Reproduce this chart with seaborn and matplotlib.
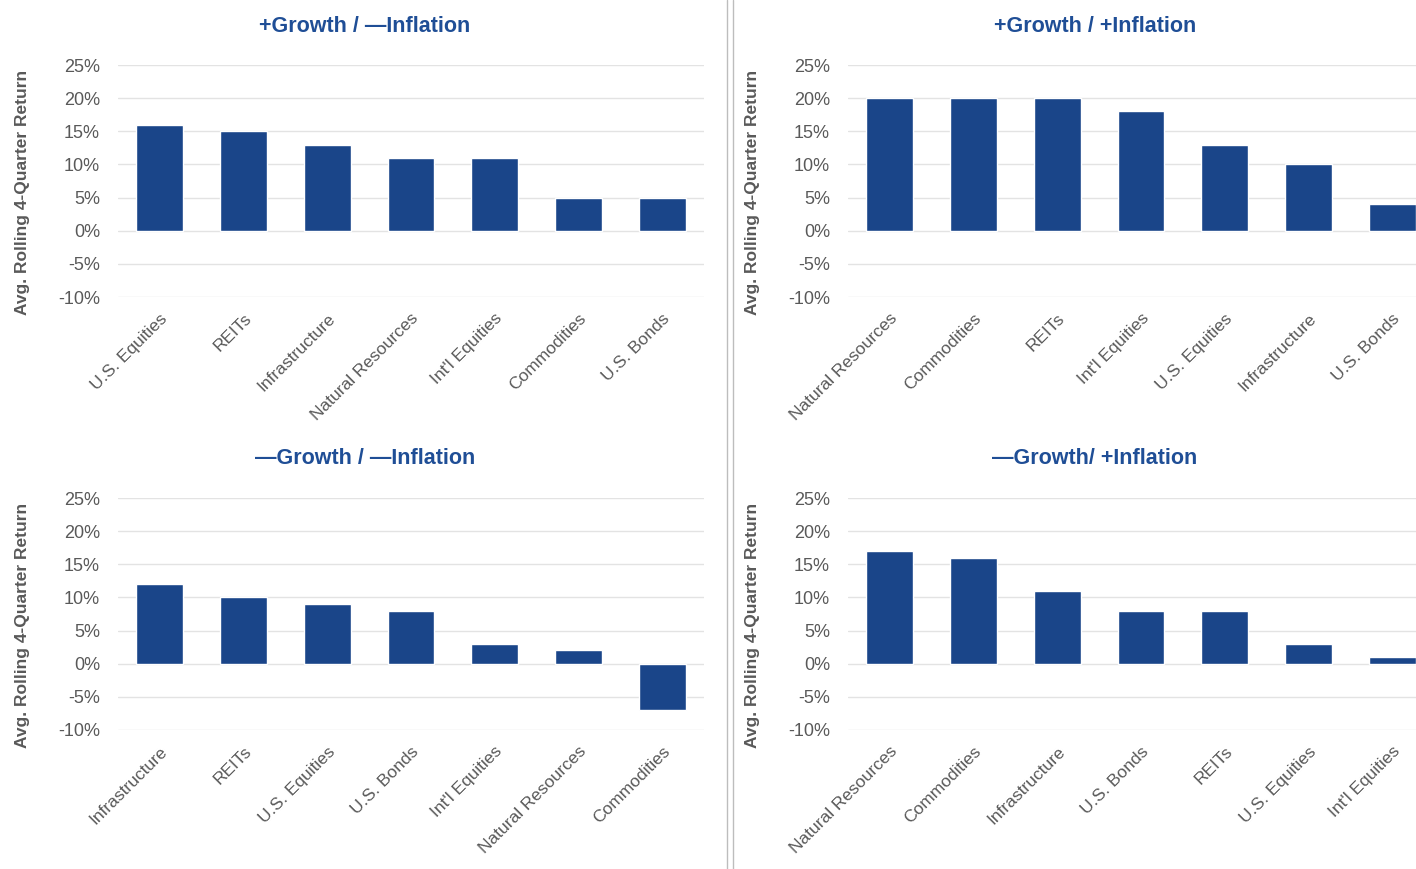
import pandas as pd
import seaborn as sns
import matplotlib.pyplot as plt
from matplotlib.lines import Line2D
from matplotlib.ticker import PercentFormatter

# data (percent)
tl_cats = ['U.S. Equities', 'REITs', 'Infrastructure', 'Natural Resources', "Int'l Equities", 'Commodities', 'U.S. Bonds']
tl_vals = [16, 15, 13, 11, 11, 5, 5]

tr_cats = ['Natural Resources', 'Commodities', 'REITs', "Int'l Equities", 'U.S. Equities', 'Infrastructure', 'U.S. Bonds']
tr_vals = [20, 20, 20, 18, 13, 10, 4]

bl_cats = ['Infrastructure', 'REITs', 'U.S. Equities', 'U.S. Bonds', "Int'l Equities", 'Natural Resources', 'Commodities']
bl_vals = [12, 10, 9, 8, 3, 2, -7]

br_cats = ['Natural Resources', 'Commodities', 'Infrastructure', 'U.S. Bonds', 'REITs', 'U.S. Equities', "Int'l Equities"]
br_vals = [17, 16, 11, 8, 8, 3, 1]

titles = ['+Growth / \u2014Inflation', '+Growth / +Inflation',
          '\u2014Growth / \u2014Inflation', '\u2014Growth/ +Inflation']
yticks = [-10, -5, 0, 5, 10, 15, 20, 25]

BAR = '#1a4589'
TITLE = '#1f4e96'
GREY = '#595959'

sns.set_style('white')
plt.rcParams['font.family'] = ['Liberation Sans', 'DejaVu Sans']
plt.rcParams['axes.unicode_minus'] = False

fig = plt.figure(figsize=(14.16, 8.69), dpi=100)

W, H = 1416, 869
# axes boxes in pixels: left, top, right, bottom
boxes = [(118, 65, 704, 297), (848, 65, 1434, 297),
         (118, 498, 704, 730), (848, 498, 1434, 730)]
title_pos = [(365, 26), (1095, 26), (365, 459), (1095, 459)]
panels = [(tl_cats, tl_vals), (tr_cats, tr_vals), (bl_cats, bl_vals), (br_cats, br_vals)]

for (cats, vals), (l, t, r, b), ttl, (tx, ty) in zip(panels, boxes, titles, title_pos):
    ax = fig.add_axes([l / W, 1 - b / H, (r - l) / W, (b - t) / H])
    df = pd.DataFrame({'asset': cats, 'ret': vals})
    sns.barplot(data=df, x='asset', y='ret', color=BAR, saturation=1, width=0.56, ax=ax)
    ax.set_ylim(-10, 25)
    ax.set_xlim(-0.5, len(cats) - 0.5)
    ax.set_yticks(yticks)
    ax.yaxis.set_major_formatter(PercentFormatter(decimals=0))
    ax.grid(axis='y', color='#e3e3e3', lw=1)
    ax.set_axisbelow(True)
    sns.despine(ax=ax, left=True, bottom=True)
    ax.tick_params(axis='both', length=0, colors=GREY)
    ax.tick_params(axis='y', pad=13, labelsize=13)
    ax.tick_params(axis='x', pad=10, labelsize=12.5)
    plt.setp(ax.get_xticklabels(), rotation=45, ha='right', rotation_mode='anchor')
    ax.set_xlabel('')
    ax.set_ylabel('Avg. Rolling 4-Quarter Return', color=GREY, fontsize=12.5,
                  fontweight='bold')
    ax.yaxis.set_label_coords(-0.15, 0.45)
    fig.text(tx / W, 1 - ty / H, ttl, ha='center', va='center', color=TITLE,
             fontsize=15.5, fontweight='bold')

# double divider between the left and right columns
for px in (727, 733):
    fig.add_artist(Line2D([px / W, px / W], [0, 1], color='#bdbdbd', lw=1))

fig.savefig('out.png', dpi=100)
